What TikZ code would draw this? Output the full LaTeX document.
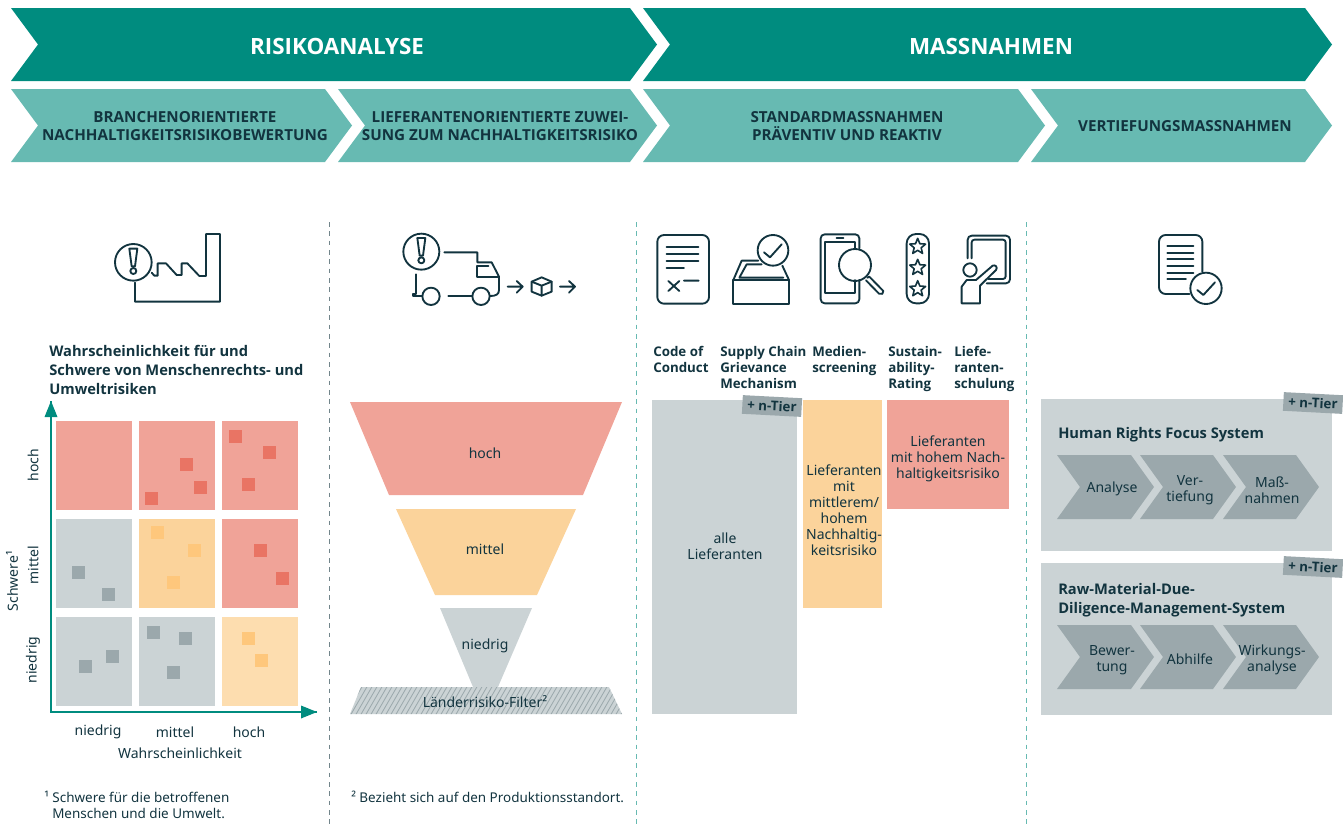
\documentclass[tikz,border=0pt]{standalone}
\usepackage{fontspec}
\setmainfont{Noto Sans}[BoldFont={Open Sans Bold}]
\definecolor{teal1}{HTML}{008C7F}
\definecolor{teal2}{HTML}{67BAB2}
\definecolor{ink}{HTML}{12343F}
\definecolor{cellred}{HTML}{F0A398}
\definecolor{sqred}{HTML}{E97464}
\definecolor{cellor}{HTML}{FBD39B}
\definecolor{cellorl}{HTML}{FDDDAF}
\definecolor{sqor}{HTML}{FEC77C}
\definecolor{cellgr}{HTML}{CBD3D5}
\definecolor{sqgr}{HTML}{9BA8AC}
\tikzset{
  txt/.style={text=ink,font=\fontsize{10.5}{12}\selectfont,align=center,inner sep=0pt},
  hd/.style={text=ink,font=\fontsize{10}{12}\selectfont\bfseries,align=left,anchor=north west,inner sep=0pt},
  ttl/.style={text=ink,font=\fontsize{11}{14.2}\selectfont\bfseries,align=left,anchor=north west,inner sep=0pt},
  band/.style={text=ink,font=\fontsize{11.4}{14}\selectfont\bfseries,align=center,inner sep=0pt},
  bigband/.style={text=white,font=\fontsize{16.8}{18}\selectfont\bfseries,inner sep=0pt},
  tagbox/.style={fill=sqgr,text=ink,font=\fontsize{10}{11}\selectfont\bfseries,rotate=-3,inner sep=0pt,minimum width=44.5pt,minimum height=14pt},
  ico/.style={draw=ink,line width=1.4pt,line cap=round,line join=round},
  sep/.style={line width=0.7pt,dash pattern=on 3.5pt off 3.5pt},
  note/.style={text=ink,font=\fontsize{10.1}{12}\selectfont,align=left,anchor=west,inner sep=0pt}
}
\newcommand{\mychev}[6]{\fill[#6] (#1,#3) -- (#2,#3) -- ({#2+#5},{(#3+#4)/2}) -- (#2,#4) -- (#1,#4) -- ({#1+#5},{(#3+#4)/2}) -- cycle;}
\newcommand{\mysq}[3]{\fill[#3] (#1,#2) rectangle ++(13,13);}
\newcommand{\myexcl}[2]{\draw[ico] ({#1-12},{#2-41}) -- ({#1+12},{#2-41}) -- ({#1+5},{#2+12}) -- ({#1-5},{#2+12}) -- cycle; \draw[ico] (#1,{#2+26}) circle[radius=9];}
\newcommand{\mystar}[2]{\draw[ico,line width=1.2pt] ({#1+25*cos(90)},{#2-25*sin(90)})
  -- ({#1+11*cos(126)},{#2-11*sin(126)}) -- ({#1+25*cos(162)},{#2-25*sin(162)})
  -- ({#1+11*cos(198)},{#2-11*sin(198)}) -- ({#1+25*cos(234)},{#2-25*sin(234)})
  -- ({#1+11*cos(270)},{#2-11*sin(270)}) -- ({#1+25*cos(306)},{#2-25*sin(306)})
  -- ({#1+11*cos(342)},{#2-11*sin(342)}) -- ({#1+25*cos(18)},{#2-25*sin(18)})
  -- ({#1+11*cos(54)},{#2-11*sin(54)}) -- cycle;}
\begin{document}
\begin{tikzpicture}[x=0.75pt,y=-0.75pt]
\useasboundingbox (0,0) rectangle (1343,828);
% ---- bands
\mychev{11}{630}{8}{81}{27}{teal1}
\mychev{643}{1305}{8}{81}{27}{teal1}
\mychev{11}{325}{89}{162}{27}{teal2}
\mychev{338}{630}{89}{162}{27}{teal2}
\mychev{643}{1018}{89}{162}{27}{teal2}
\mychev{1031}{1305}{89}{162}{27}{teal2}
\node[bigband] (b1) at (337,46) {RISIKOANALYSE};
\node[bigband] (b2) at (991,46) {MASSNAHMEN};
\node[band] (s1) at (185,126) {BRANCHENORIENTIERTE\\NACHHALTIGKEITSRISIKOBEWERTUNG};
\node[band] (s2) at (500,126) {LIEFERANTENORIENTIERTE ZUWEI-\\SUNG ZUM NACHHALTIGKEITSRISIKO};
\node[band] (s3) at (847,126) {STANDARDMASSNAHMEN\\PRÄVENTIV UND REAKTIV};
\node[band] (s4) at (1185,126) {VERTIEFUNGSMASSNAHMEN};
% ---- separators
\draw[sep,draw=sqgr!70!ink] (329,222) -- (329,828);
\draw[sep,draw=teal2] (636,222) -- (636,828);
\draw[sep,draw=teal2] (1026,222) -- (1026,828);
% ---- icon factory
\begin{scope}[shift={(100,220)},x=0.25pt,y=-0.25pt]
\draw[ico] (100,127) circle[radius=55];
\myexcl{100}{127}
\draw[ico] (155,158) -- (163,167) -- (173,167) -- (173,130) -- (198,130) -- (230,165) -- (245,165) -- (245,130) -- (262,130) -- (298,168) -- (318,168) -- (318,42) -- (360,42) -- (360,245) -- (105,245) -- (105,188);
\end{scope}
% ---- icon truck
\begin{scope}[shift={(390,225)},x=0.25pt,y=-0.25pt]
\draw[ico] (94,80) circle[radius=54];
\myexcl{94}{80}
\draw[ico] (163,82) -- (262,82) -- (262,112) -- (305,112) -- (327,155) -- (327,195) .. controls (327,208) and (318,213) .. (300,213);
\draw[ico] (295,124) -- (262,124) -- (262,155) -- (327,155);
\draw[ico] (123,214) circle[radius=26];
\draw[ico] (273,214) circle[radius=26];
\draw[ico] (175,214) -- (247,214);
\draw[ico] (78,148) -- (78,208) -- (70,208) -- (70,214) -- (97,214);
\draw[ico] (353,185) -- (398,185) (380,168) -- (398,185) -- (380,203);
\draw[ico] (425,170) -- (455,157) -- (485,170) -- (485,200) -- (455,212) -- (425,200) -- cycle;
\draw[ico] (425,170) -- (455,182) -- (485,170) (455,182) -- (455,212);
\draw[ico] (510,185) -- (555,185) (537,168) -- (555,185) -- (537,203);
\end{scope}
% ---- icons measures
\begin{scope}[shift={(640,225)},x=0.25pt,y=-0.25pt]
\draw[ico,rounded corners=5pt] (52,30) rectangle (207,236);
\draw[ico] (80,66) -- (175,66) (80,87) -- (175,87) (80,107) -- (175,107) (80,128) -- (132,128);
\draw[ico] (85,168) -- (118,198) (118,168) -- (85,198) (132,167) -- (176,167);
\draw[ico] (399,76) circle[radius=46];
\draw[ico] (372,82) -- (390,97) -- (425,58);
\draw[ico] (280,165) rectangle (447,236);
\draw[ico] (280,165) -- (305,107) -- (355,107) (447,165) -- (427,122);
\draw[ico] (365,118) -- (320,118) -- (298,158) -- (430,158);
\end{scope}
\begin{scope}[shift={(810,225)},x=0.25pt,y=-0.25pt]
\draw[ico,rounded corners=3pt] (148,70) -- (148,28) -- (32,28) -- (32,235) -- (148,235) -- (148,165);
\draw[ico] (80,38) -- (100,38);
\draw[ico] (135,70) -- (135,52) -- (45,52) -- (45,203) -- (135,203) -- (135,165);
\draw[ico] (135,120) circle[radius=48];
\draw[ico] (172,158) -- (178,155) -- (220,198) .. controls (222,206) and (214,210) .. (207,206) -- (168,166);
\draw[ico,rounded corners=7pt] (290,27) rectangle (357,235);
\mystar{323}{65}
\mystar{323}{128}
\mystar{323}{192}
\draw[ico,rounded corners=3pt] (473,100) -- (473,32) -- (600,32) -- (600,175) -- (530,175);
\draw[ico,rounded corners=2pt] (485,100) -- (485,44) -- (587,44) -- (587,162) -- (535,162);
\draw[ico] (480,135) circle[radius=20];
\draw[ico] (455,235) -- (455,185) -- (470,165) -- (498,165) -- (548,122) .. controls (556,118) and (564,127) .. (558,135) -- (510,182) -- (510,235) -- cycle;
\end{scope}
\begin{scope}[shift={(1140,225)},x=0.25pt,y=-0.25pt]
\draw[ico,rounded corners=5pt] (187,140) -- (187,30) -- (57,30) -- (57,207) -- (148,207);
\draw[ico] (82,62) -- (160,62) (82,83) -- (160,83) (82,103) -- (160,103) (82,123) -- (160,123) (82,143) -- (160,143) (82,163) -- (138,163);
\draw[ico] (198,190) circle[radius=47];
\draw[ico] (172,195) -- (190,210) -- (225,172);
\end{scope}
% ---- matrix
\node[ttl] (mt) at (49,345) {Wahrscheinlichkeit für und\\Schwere von Menschenrechts- und\\Umweltrisiken};
\fill[cellred] (56,421) rectangle (132,510);
\fill[cellred] (139,421) rectangle (215,510);
\fill[cellred] (222,421) rectangle (298,510);
\fill[cellgr] (56,519) rectangle (132,608);
\fill[cellor] (139,519) rectangle (215,608);
\fill[cellred] (222,519) rectangle (298,608);
\fill[cellgr] (56,617) rectangle (132,706);
\fill[cellgr] (139,617) rectangle (215,706);
\fill[cellorl] (222,617) rectangle (298,706);
\mysq{180}{458}{sqred}\mysq{194}{481}{sqred}\mysq{145}{492}{sqred}
\mysq{229}{430}{sqred}\mysq{263}{446}{sqred}\mysq{242}{478}{sqred}
\mysq{72}{566}{sqgr}\mysq{102}{588}{sqgr}
\mysq{151}{526}{sqor}\mysq{188}{544}{sqor}\mysq{167}{576}{sqor}
\mysq{254}{544}{sqred}\mysq{276}{572}{sqred}
\mysq{79}{660}{sqgr}\mysq{106}{650}{sqgr}
\mysq{147}{626}{sqgr}\mysq{179}{632}{sqgr}\mysq{167}{666}{sqgr}
\mysq{242}{632}{sqor}\mysq{255}{654}{sqor}
% axes
\coordinate (ao) at (51,712);
\coordinate (ay) at (51,401);
\coordinate (ax) at (317,712);
\draw[teal1,line width=1pt] (ay) -- (ao) -- (ax);
\fill[teal1] (ay) -- ++(-6.5,16) -- ++(13,0) -- cycle;
\fill[teal1] (ax) -- ++(-16,-6.5) -- ++(0,13) -- cycle;
\node[txt,rotate=90] (l1) at (33,465) {hoch};
\node[txt,rotate=90] (l2) at (33,565) {mittel};
\node[txt,rotate=90] (l3) at (33,660) {niedrig};
\node[txt,rotate=90] (l4) at (12,581) {Schwere¹};
\node[txt] (l5) at (98,732) {niedrig};
\node[txt] (l6) at (175,732) {mittel};
\node[txt] (l7) at (249,732) {hoch};
\node[txt] (l8) at (180,753) {Wahrscheinlichkeit};
\node[note] (f1) at (44,797) {¹ Schwere für die betroffenen};
\node[note] (f2) at (52,813) {Menschen und die Umwelt.};
\node[note] (f3) at (351,797) {² Bezieht sich auf den Produktionsstandort.};
% ---- funnel
\fill[cellred] (350,402) -- (622,402) -- (583,495) -- (389,495) -- cycle;
\fill[cellor] (396,509) -- (576,509) -- (537,595) -- (435,595) -- cycle;
\fill[cellgr] (440,608) -- (532,608) -- (498,687) -- (473,687) -- cycle;
\fill[cellgr] (361,687) -- (609,687) -- (622,714) -- (350,714) -- cycle;
\begin{scope}
\clip (361,687) -- (609,687) -- (622,714) -- (350,714) -- cycle;
\foreach \i in {340,345,...,640} \draw[sqgr,line width=0.6pt] (\i,716) -- ({\i+18},685);
\end{scope}
\node[txt] (fa) at (485,453) {hoch};
\node[txt] (fb) at (485,549) {mittel};
\node[txt] (fc) at (485,646) {niedrig};
\node[txt] (fd) at (485,702) {Länderrisiko-Filter²};
% ---- columns
\node[hd] (c1) at (653,346) {Code of\\Conduct};
\node[hd] (c2) at (720,346) {Supply Chain\\Grievance\\Mechanism};
\node[hd] (c3) at (812,346) {Medien-\\screening};
\node[hd] (c4) at (888,346) {Sustain-\\ability-\\Rating};
\node[hd] (c5) at (954,346) {Liefe-\\ranten-\\schulung};
\fill[cellgr] (652,400) rectangle (797,714);
\fill[cellor] (803,400) rectangle (882,608);
\fill[cellred] (887,400) rectangle (1009,509);
\node[txt] (t1) at (725,546) {alle\\Lieferanten};
\node[txt] (t2) at (844,510) {Lieferanten\\mit\\mittlerem/\\hohem\\Nachhaltig-\\keitsrisiko};
\node[txt] (t3) at (948,459) {Lieferanten\\mit hohem Nach-\\haltigkeitsrisiko};
\node[tagbox] (tg1) at (772,406) {+ n-Tier};
% ---- right boxes
\fill[cellgr] (1041,399) rectangle (1332,551);
\fill[cellgr] (1041,563) rectangle (1332,715);
\node[tagbox] (tg2) at (1313,403) {+ n-Tier};
\node[tagbox] (tg3) at (1313,567) {+ n-Tier};
\node[ttl] (r1) at (1058,427) {Human Rights Focus System};
\node[ttl] (r2) at (1058,583) {Raw-Material-Due-\\Diligence-Management-System};
\mychev{1057}{1131}{455}{519}{23}{sqgr}
\mychev{1140}{1213}{455}{519}{23}{sqgr}
\mychev{1223}{1296}{455}{519}{23}{sqgr}
\mychev{1057}{1131}{625}{689}{23}{sqgr}
\mychev{1140}{1213}{625}{689}{23}{sqgr}
\mychev{1223}{1296}{625}{689}{23}{sqgr}
\node[txt] (p1) at (1112,489) {Analyse};
\node[txt] (p2) at (1190,490) {Ver-\\tiefung};
\node[txt] (p3) at (1272,490) {Maß-\\nahmen};
\node[txt] (p4) at (1112,660) {Bewer-\\tung};
\node[txt] (p5) at (1190,659) {Abhilfe};
\node[txt] (p6) at (1272,660) {Wirkungs-\\analyse};
\end{tikzpicture}
\end{document}
